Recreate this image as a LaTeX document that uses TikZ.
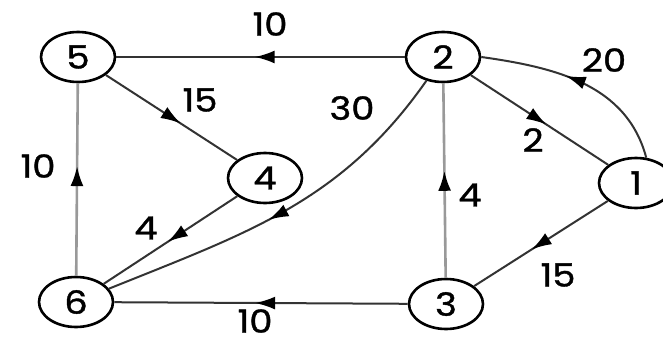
\documentclass[tikz,border=0pt]{standalone}
\usepackage{fontspec}
\setmainfont{Poppins}[FakeStretch=1.15,FakeBold=1.2]
\usetikzlibrary{arrows.meta,decorations.markings,shapes.geometric}
\begin{document}
\begin{tikzpicture}[x=1pt,y=-1pt,
  vert/.style={ellipse,draw=black,line width=2.6pt,minimum width=74pt,minimum height=50pt,inner sep=0pt,font=\fontsize{32}{32}\selectfont},
  edge/.style={draw=black!80,line width=2pt},
  gedge/.style={draw=black!40,line width=2.6pt},
  midarrow/.style={postaction={decorate},decoration={markings,mark=at position #1 with {\arrow[black]{Latex[length=20pt,width=13pt]}}}},
  lbl/.style={font=\fontsize{32}{32}\selectfont,inner sep=0pt}]
\useasboundingbox (0,0) rectangle (663,345);
\clip (0,0) rectangle (663,345);
\node[vert] (n5) at (78,57) {5};
\node[vert] (n2) at (443,57) {2};
\node[vert] (n4) at (265,178) {4};
\node[vert] (n1) at (636,183) {1};
\node[vert] (n6) at (76,302) {6};
\node[vert] (n3) at (446,304) {3};
% edges
\draw[edge,midarrow=0.52] (n2) -- (n5);
\draw[edge,midarrow=0.57] (n5) -- (n4);
\draw[gedge,midarrow=0.57] (n6) -- (n5);
\draw[edge,midarrow=0.52] (n4) -- (n6);
\draw[edge,midarrow=0.55] (n2) to[out=235,in=22] (n6);
\draw[edge,midarrow=0.55] (n2) -- (n1);
\draw[edge,midarrow=0.58] (n1.68) to[out=105,in=-8] (n2.east);
\draw[gedge,midarrow=0.55] (n3) -- (n2);
\draw[edge,midarrow=0.57] (n1) -- (n3);
\draw[edge,midarrow=0.52] (n3) -- (n6);
% labels
\node[lbl] (l25) at (270,24) {10};
\node[lbl] (l54) at (200,100) {15};
\node[lbl] (l65) at (38,166) {10};
\node[lbl] (l46) at (146,228) {4};
\node[lbl] (l26) at (352,108) {30};
\node[lbl] (l21) at (533,140) {2};
\node[lbl] (l12) at (604,60) {20};
\node[lbl] (l32) at (470,195) {4};
\node[lbl] (l13) at (558,275) {15};
\node[lbl] (l36) at (255,321) {10};
\end{tikzpicture}
\end{document}
